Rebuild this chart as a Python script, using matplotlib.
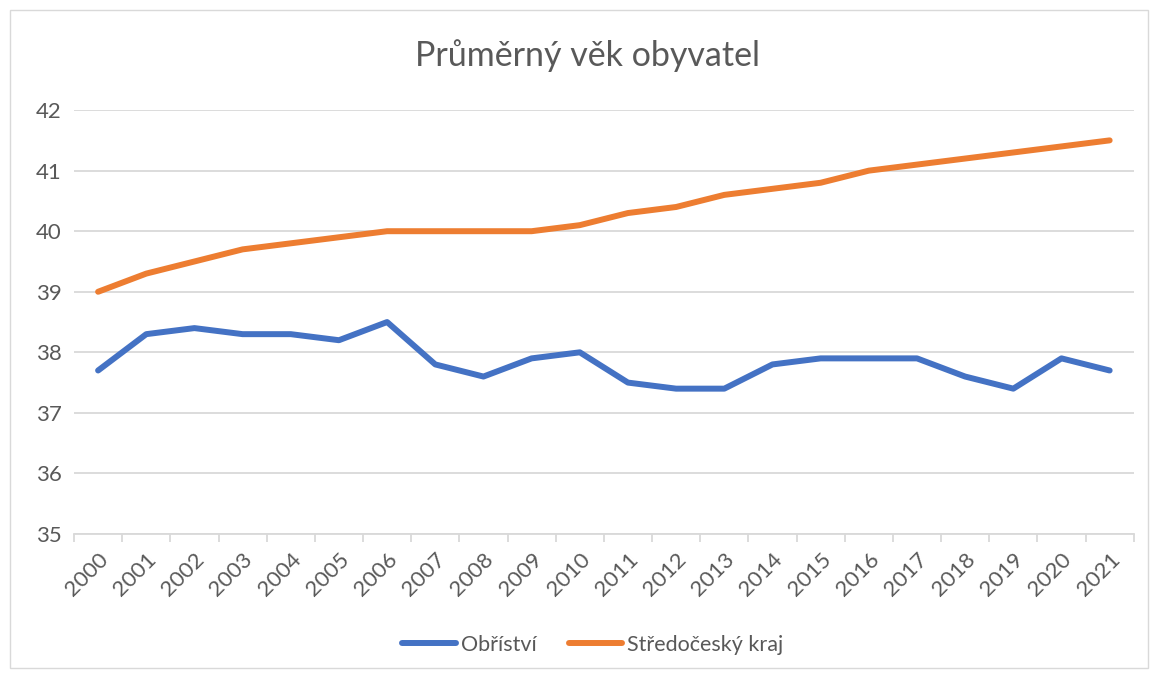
import matplotlib
matplotlib.use("Agg")
import matplotlib.pyplot as plt
from matplotlib.patches import Rectangle
import numpy as np

plt.rcParams['font.family'] = ['Lato', 'DejaVu Sans']

years = [str(y) for y in range(2000, 2022)]
obristvi = [37.7, 38.3, 38.4, 38.3, 38.3, 38.2, 38.5, 37.8, 37.6, 37.9, 38.0,
            37.5, 37.4, 37.4, 37.8, 37.9, 37.9, 37.9, 37.6, 37.4, 37.9, 37.7]
stredocesky = [39.0, 39.3, 39.5, 39.7, 39.8, 39.9, 40.0, 40.0, 40.0, 40.0, 40.1,
               40.3, 40.4, 40.6, 40.7, 40.8, 41.0, 41.1, 41.2, 41.3, 41.4, 41.5]

text_col = '#595959'
grid_col = '#D9D9D9'

fig = plt.figure(figsize=(11.51, 6.75), dpi=100)
fig.patches.append(Rectangle((0.009, 0.01), 0.988, 0.975, transform=fig.transFigure,
                             fill=False, edgecolor='#D9D9D9', linewidth=1))
ax = fig.add_axes([0.0643, 0.2089, 0.9207, 0.628])

x = np.arange(len(years))
ax.plot(x, obristvi, color='#4472C4', linewidth=4.3, solid_capstyle='round',
        solid_joinstyle='round', label='Obříství')
ax.plot(x, stredocesky, color='#ED7D31', linewidth=4.3, solid_capstyle='round',
        solid_joinstyle='round', label='Středočeský kraj')

ax.set_xlim(-0.5, len(years) - 0.5)
ax.set_ylim(35, 42)
ax.set_yticks(range(35, 43))
ax.yaxis.grid(True, color=grid_col, linewidth=1.3)
ax.set_axisbelow(True)

for s in ['top', 'right', 'left']:
    ax.spines[s].set_visible(False)
ax.spines['bottom'].set_color(grid_col)
ax.spines['bottom'].set_linewidth(1.3)

ax.set_xticks(x)
ax.set_xticklabels(years, rotation=45, ha='right', rotation_mode='anchor',
                   fontsize=16, color=text_col)
ax.set_xticks(np.arange(-0.5, len(years)), minor=True)
ax.tick_params(axis='x', which='major', length=0, pad=11)
ax.tick_params(axis='x', which='minor', length=6, color=grid_col, width=1.3)
ax.tick_params(axis='y', length=0, labelsize=16, labelcolor=text_col, pad=9)

fig.text(0.51, 0.918, 'Průměrný věk obyvatel', ha='center', va='center',
         fontsize=24.5, color=text_col)

fig.legend(loc='center', bbox_to_anchor=(0.515, 0.045), ncol=2, frameon=False,
           fontsize=15.5, labelcolor=text_col, handlelength=2.5, columnspacing=1.5,
           handletextpad=0.2)

fig.savefig('out.png', dpi=100)
